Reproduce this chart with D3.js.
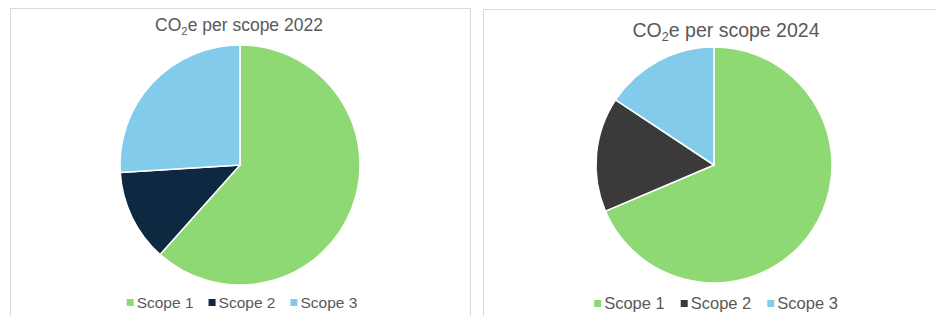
<!DOCTYPE html>
<html>
<head>
<meta charset="utf-8">
<script src="https://cdn.jsdelivr.net/npm/d3@7"></script>
<style>
  body { margin: 0; background: #fff; }
  svg { display: block; font-family: Arial, "Liberation Sans", sans-serif; }
</style>
</head>
<body>
<script>
// data (share of total, %)
var scopes = ["Scope 1", "Scope 2", "Scope 3"];
var values2022 = [61.6, 12.4, 26.0];
var values2024 = [68.6, 15.7, 15.7];
var colors2022 = ["#8ed973", "#0e2841", "#83cbeb"];
var colors2024 = ["#8ed973", "#3a3a3a", "#83cbeb"];

var w = 936, h = 316;
var svg = d3.select("body").append("svg").attr("width", w).attr("height", h);

var panels = [
  {year: 2022, values: values2022, colors: colors2022, x: 10, y: 8, w: 460, cx: 240, cy: 165, r: 120,
   titleX: 239, titleY: 31, titleSize: 17.5, legY: 308, legSize: 15.5, legGap: 15},
  {year: 2024, values: values2024, colors: colors2024, x: 483, y: 9, w: 470, cx: 714, cy: 165, r: 118,
   titleX: 726, titleY: 37, titleSize: 19.5, legY: 309, legSize: 16.5, legGap: 16}
];

var pie = d3.pie().sort(null).value(function(d) { return d; });

panels.forEach(function(p) {
  var g = svg.append("g");

  g.append("rect")
    .attr("x", p.x + 0.5).attr("y", p.y + 0.5)
    .attr("width", p.w).attr("height", h)
    .attr("fill", "#fff").attr("stroke", "#d9d9d9");

  var title = g.append("text")
    .attr("x", p.titleX).attr("y", p.titleY)
    .attr("text-anchor", "middle")
    .attr("fill", "#595959")
    .attr("font-size", p.titleSize);
  title.append("tspan").text("CO");
  title.append("tspan").text("2").attr("font-size", p.titleSize * 0.65).attr("dy", 4);
  title.append("tspan").text("e per scope " + p.year).attr("dy", -4);

  var arc = d3.arc().innerRadius(0).outerRadius(p.r);
  g.append("g")
    .attr("transform", "translate(" + p.cx + "," + p.cy + ")")
    .selectAll("path")
    .data(pie(p.values))
    .enter().append("path")
      .attr("d", arc)
      .attr("fill", function(d, i) { return p.colors[i]; })
      .attr("stroke", "#fff")
      .attr("stroke-width", 1.5);

  // legend
  var leg = g.append("g");
  var items = leg.selectAll("g").data(scopes).enter().append("g");
  items.append("rect")
    .attr("width", 7).attr("height", 7)
    .attr("y", -9)
    .attr("fill", function(d, i) { return p.colors[i]; });
  items.append("text")
    .attr("x", 10)
    .attr("fill", "#595959")
    .attr("font-size", p.legSize)
    .text(function(d) { return d; });

  var xpos = 0;
  items.each(function() {
    d3.select(this).attr("transform", "translate(" + xpos + ",0)");
    xpos += this.getBBox().width + p.legGap;
  });
  var total = xpos - p.legGap;
  leg.attr("transform", "translate(" + (p.cx - total / 2 + 2) + "," + p.legY + ")");
});
</script>
</body>
</html>
